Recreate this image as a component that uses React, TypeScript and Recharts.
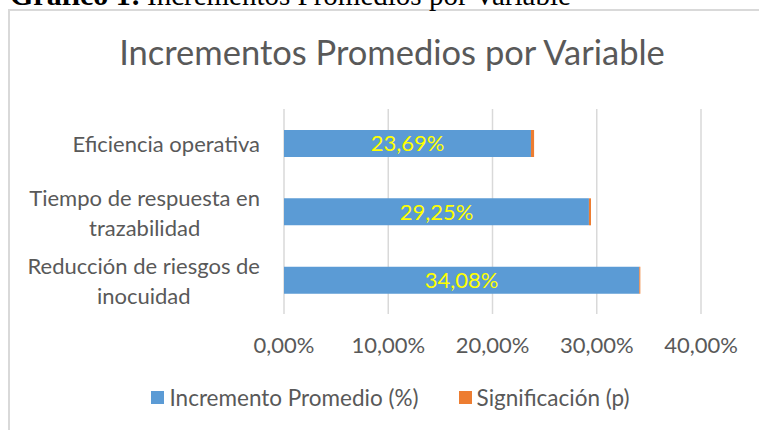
import React from 'react';
import { BarChart, Bar, XAxis, YAxis, CartesianGrid, Legend, LabelList } from 'recharts';

const categories = [
  'Eficiencia operativa',
  'Tiempo de respuesta en trazabilidad',
  'Reducción de riesgos de inocuidad',
];
const incrementoValues = [0.2369, 0.2925, 0.3408];
const significacionValues = [0.003, 0.002, 0.001];
const xTicks = [0, 0.1, 0.2, 0.3, 0.4];

const FONT = 'Lato, "Open Sans", sans-serif';
const TEXT_GREY = '#595959';
const BLUE = '#5B9BD5';
const ORANGE = '#ED7D31';
const FRAME = '#d9d9d9';

const data = categories.map((name, i) => ({
  name,
  inc: incrementoValues[i],
  sig: significacionValues[i],
}));

const pct = (v: number) => (v * 100).toFixed(2).replace('.', ',') + '%';

// greedy wrap, roughly the way Excel breaks the axis labels
const wrap = (text: string, max = 23) => {
  const lines: string[] = [];
  let cur = '';
  text.split(' ').forEach((w) => {
    const next = cur ? cur + ' ' + w : w;
    if (next.length > max && cur) {
      lines.push(cur);
      cur = w;
    } else {
      cur = next;
    }
  });
  if (cur) lines.push(cur);
  return lines;
};

let ctx: CanvasRenderingContext2D | null = null;
const measure = (s: string, size: number) => {
  if (!ctx) ctx = document.createElement('canvas').getContext('2d');
  if (!ctx) return s.length * size * 0.5;
  ctx.font = `${size}px ${FONT}`;
  return ctx.measureText(s).width;
};

const LABEL_SIZE = 22;

const CategoryTick = (props: any) => {
  const { x, y, payload } = props;
  const lines = wrap(payload.value);
  const lineH = 30;
  if (lines.length === 1) {
    return (
      <text x={x} y={y} textAnchor="end" dominantBaseline="central" fill={TEXT_GREY}
        fontSize={LABEL_SIZE} fontFamily={FONT}>
        {lines[0]}
      </text>
    );
  }
  const w = Math.max(...lines.map((l) => measure(l, LABEL_SIZE)));
  const cx = x - w / 2;
  return (
    <text x={cx} y={y} textAnchor="middle" dominantBaseline="central" fill={TEXT_GREY}
      fontSize={LABEL_SIZE} fontFamily={FONT}>
      {lines.map((l, i) => (
        <tspan key={i} x={cx} y={y + (i - (lines.length - 1) / 2) * lineH}>{l}</tspan>
      ))}
    </text>
  );
};

const LegendContent = () => {
  const items = [
    { label: 'Incremento Promedio (%)', color: BLUE },
    { label: 'Significación (p)', color: ORANGE },
  ];
  return (
    <div style={{ display: 'flex', justifyContent: 'center', paddingLeft: 80, paddingTop: 4, gap: 40,
      fontFamily: FONT, fontSize: 22.5, color: TEXT_GREY }}>
      {items.map((it) => (
        <div key={it.label} style={{ display: 'flex', alignItems: 'center' }}>
          <span style={{ width: 13, height: 13, background: it.color, marginRight: 5, display: 'inline-block' }} />
          <span>{it.label}</span>
        </div>
      ))}
    </div>
  );
};

export default function App() {
  return (
    <div style={{ position: 'fixed', left: 0, top: 0, width: 759, height: 430, overflow: 'hidden', background: '#fff' }}>
      {/* chart frame: only top and left edges are inside the crop */}
      <div style={{ position: 'absolute', left: 8, top: 9, width: 760, height: 2, background: FRAME }} />
      <div style={{ position: 'absolute', left: 8, top: 9, width: 2, height: 430, background: FRAME }} />
      <svg width={759} height={100} style={{ position: 'absolute', left: 0, top: 0 }}>
        {/* document caption, cut off at the top */}
        <text x={10} y={5} fontFamily='"Liberation Serif", "Times New Roman", serif' fontSize={29} fill="#000">
          <tspan fontWeight="bold" fontSize={30}>Gráfico 1:</tspan>
          <tspan x={147}>Incrementos Promedios por Variable</tspan>
        </text>
        <text x={392} y={65} textAnchor="middle" fontFamily={FONT} fontSize={34.5} fill={TEXT_GREY}>
          Incrementos Promedios por Variable
        </text>
      </svg>
      <div style={{ position: 'absolute', left: 0, top: 0 }}>
        <BarChart width={759} height={430} data={data} layout="vertical"
          margin={{ top: 109, right: 58, bottom: 10, left: 0 }} barSize={27}>
          <CartesianGrid horizontal={false} stroke={FRAME} strokeWidth={1.5} />
          <XAxis type="number" domain={[0, 0.4]} ticks={xTicks} tickFormatter={pct}
            axisLine={false} tickLine={false} tickSize={0} tickMargin={23} height={66}
            tick={{ fill: TEXT_GREY, fontSize: LABEL_SIZE, fontFamily: FONT }} interval={0} />
          <YAxis type="category" dataKey="name" width={284} axisLine={false} tickLine={false}
            tickSize={0} tickMargin={24} tick={<CategoryTick />} interval={0} />
          <Legend verticalAlign="bottom" height={40} content={<LegendContent />} />
          <Bar dataKey="inc" stackId="a" fill={BLUE} isAnimationActive={false}>
            <LabelList dataKey="inc" position="center" formatter={(v: any) => pct(Number(v))}
              fill="#FFFF00" fontSize={LABEL_SIZE} fontFamily={FONT} />
          </Bar>
          <Bar dataKey="sig" stackId="a" fill={ORANGE} isAnimationActive={false} />
        </BarChart>
      </div>
    </div>
  );
}
